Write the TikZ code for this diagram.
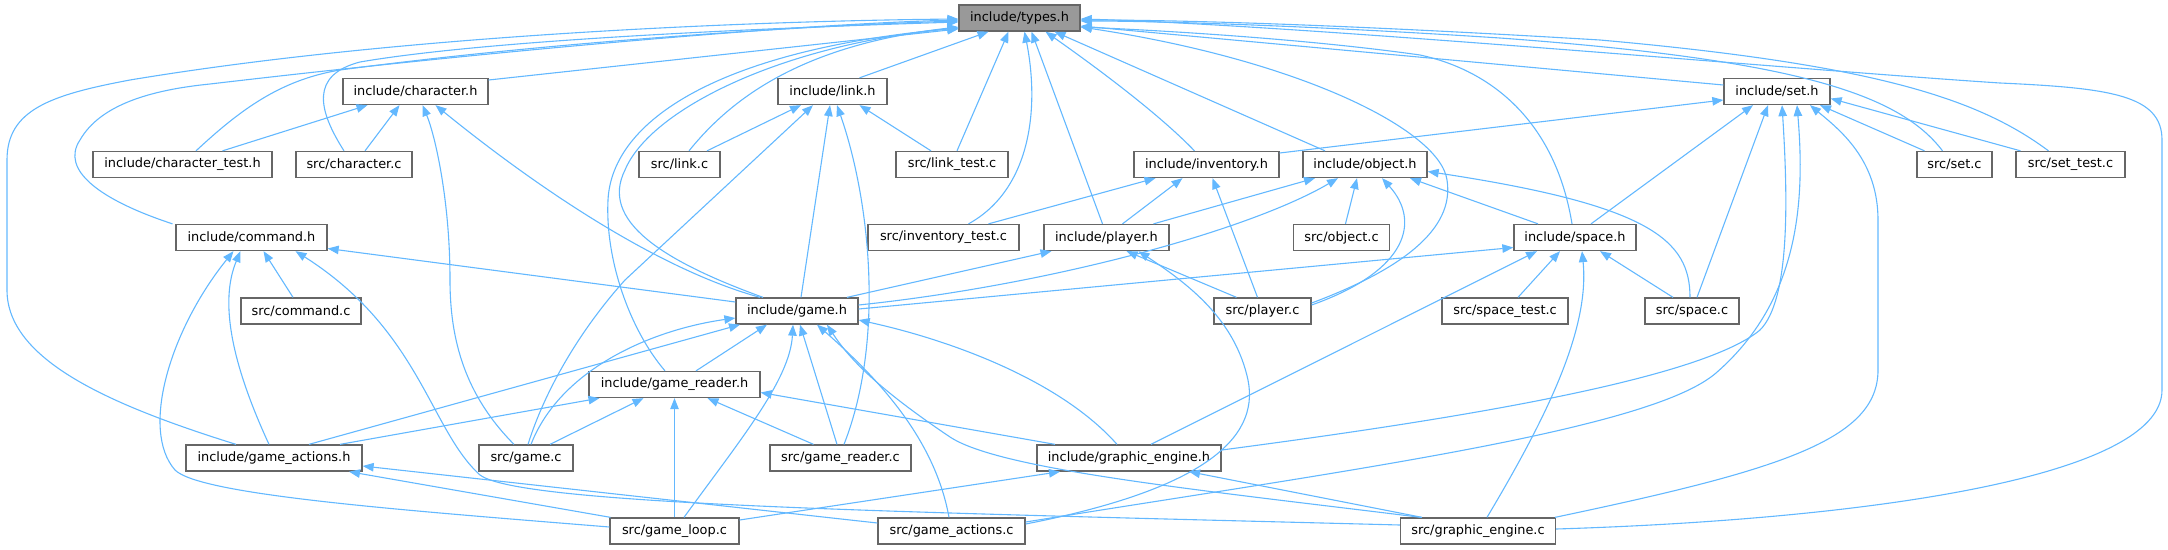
\documentclass[tikz,border=0pt]{standalone}
\usepackage{fontspec}
\setmainfont{DejaVu Sans}
\usetikzlibrary{arrows.meta}
\definecolor{edgeblue}{HTML}{63B8FF}
\definecolor{boxgray}{HTML}{666666}
\definecolor{typesfill}{HTML}{999999}
\begin{document}
\begin{tikzpicture}[x=1pt,y=-1pt,
 box/.style={draw=boxgray, line width=1.3pt, fill=white, minimum height=26pt, inner sep=0pt, font=\fontsize{12.9}{15}\selectfont, text=black},
 e/.style={draw=edgeblue, line width=1.1pt, -{Triangle[length=11pt,width=8.5pt]}}]
\useasboundingbox (0,0) rectangle (2168,549);
\node[box,fill=typesfill,minimum width=121pt] (types) at (1019.5,18) {include/types.h};
\node[box,minimum width=145pt] (charh) at (415.5,91.5) {include/character.h};
\node[box,minimum width=109pt] (linkh) at (832.5,91.5) {include/link.h};
\node[box,minimum width=106pt] (seth) at (1777,91.5) {include/set.h};
\node[box,minimum width=179pt] (chartest) at (182.5,164.5) {include/character\_test.h};
\node[box,minimum width=116pt] (charc) at (354,164.5) {src/character.c};
\node[box,minimum width=81pt] (linkc) at (679.5,164.5) {src/link.c};
\node[box,minimum width=112pt] (linktest) at (952,164.5) {src/link\_test.c};
\node[box,minimum width=145pt] (invh) at (1206.5,164.5) {include/inventory.h};
\node[box,minimum width=124pt] (objh) at (1365,164.5) {include/object.h};
\node[box,minimum width=75pt] (setc) at (1954.5,164.5) {src/set.c};
\node[box,minimum width=109pt] (settest) at (2070.5,164.5) {src/set\_test.c};
\node[box,minimum width=151pt] (cmdh) at (251.5,237.5) {include/command.h};
\node[box,minimum width=151pt] (invtest) at (943.5,237.5) {src/inventory\_test.c};
\node[box,minimum width=125pt] (playerh) at (1106.5,237.5) {include/player.h};
\node[box,minimum width=96pt] (objc) at (1341.5,237.5) {src/object.c};
\node[box,minimum width=122pt] (spaceh) at (1575,237.5) {include/space.h};
\node[box,minimum width=120pt] (cmdc) at (301,311) {src/command.c};
\node[box,minimum width=122pt] (gameh) at (797,311) {include/game.h};
\node[box,minimum width=97pt] (playerc) at (1262.5,311) {src/player.c};
\node[box,minimum width=126pt] (spacetest) at (1505,311) {src/space\_test.c};
\node[box,minimum width=94pt] (spacec) at (1692,311) {src/space.c};
\node[box,minimum width=171pt] (grh) at (674.5,384.5) {include/game\_reader.h};
\node[box,minimum width=176pt] (gah) at (274,458) {include/game\_actions.h};
\node[box,minimum width=94pt] (gamec) at (526,458) {src/game.c};
\node[box,minimum width=141pt] (grc) at (840.5,458) {src/game\_reader.c};
\node[box,minimum width=184pt] (geh) at (1129,458) {include/graphic\_engine.h};
\node[box,minimum width=129pt] (glc) at (674.5,531) {src/game\_loop.c};
\node[box,minimum width=147pt] (gac) at (951.5,531) {src/game\_actions.c};
\node[box,minimum width=155pt] (gec) at (1478,531) {src/graphic\_engine.c};
% types.h
\draw[e] ([xshift=-38pt]gah.north) .. controls (110,405) and (7,360) .. (7,290) -- (7,160) .. controls (7,110) and (50,95) .. (130,80) .. controls (400,35) and (750,21) .. ([yshift=-1pt]types.west);
\draw[e] ([xshift=-79pt]cmdh.north) .. controls (100,200) and (60,170) .. (80,140) .. controls (100,105) and (150,90) .. (210,84) .. controls (500,50) and (800,24) .. ([yshift=-2pt]types.west);
\draw[e] ([xshift=13.5pt]chartest.north) .. controls (240,110) and (280,80) .. (340,70) .. controls (550,42) and (800,26) .. ([yshift=-3pt]types.west);
\draw[e] ([xshift=-10pt]charc.north) .. controls (318,110) and (310,75) .. (360,62) .. controls (500,38) and (800,27) .. ([yshift=-4pt]types.west);
\draw[e] ([yshift=11.5pt]charh.east) -- ([yshift=-11pt]types.west);
\draw[e] ([xshift=9.5pt]linkc.north) .. controls (730,100) and (800,45) .. ([yshift=-9pt]types.west);
\draw[e] ([xshift=-34pt]gameh.north) .. controls (660,260) and (600,220) .. (625,170) .. controls (650,110) and (780,45) .. ([yshift=-10pt]types.west);
\draw[e] ([xshift=-9.5pt]grh.north) .. controls (630,330) and (605,260) .. (608,200) .. controls (612,120) and (720,50) .. ([yshift=-10pt]types.west);
\draw[e] ([xshift=27pt]linkh.north) -- ([xshift=-31pt]types.south);
\draw[e] ([xshift=5pt]linktest.north) -- ([xshift=-11pt]types.south);
\draw[e] ([xshift=25pt]invtest.north) .. controls (1030,190) and (1040,110) .. ([xshift=5pt]types.south);
\draw[e] ([xshift=-4pt]playerh.north) -- ([xshift=12pt]types.south);
\draw[e] ([xshift=-12pt]invh.north) .. controls (1160,115) and (1100,70) .. ([xshift=26pt]types.south);
\draw[e] ([xshift=-40pt]objh.north) -- ([xshift=35pt]types.south);
\draw[e] ([xshift=-3pt]spaceh.north) .. controls (1555,120) and (1490,70) .. (1420,55) .. controls (1300,38) and (1150,30) .. ([yshift=-9pt]types.east);
\draw[e] ([yshift=6.5pt]seth.west) -- ([yshift=-8pt]types.east);
\draw[e] ([xshift=-12pt]setc.north) .. controls (1900,95) and (1800,60) .. (1500,38) .. controls (1300,25) and (1150,21) .. ([yshift=-3pt]types.east);
\draw[e] ([xshift=-22pt]settest.north) .. controls (1980,100) and (1880,65) .. (1600,40) .. controls (1300,22) and (1150,20) .. ([yshift=-2pt]types.east);
\draw[e] ([yshift=2pt]gec.east) .. controls (1850,520) and (2162,480) .. (2162,390) -- (2162,140) .. controls (2162,95) and (2110,88) .. (2000,83) .. controls (1800,70) and (1300,25) .. ([yshift=-1pt]types.east);
\draw[e] ([yshift=8pt]playerc.east) .. controls (1400,270) and (1455,230) .. (1447,180) .. controls (1440,130) and (1300,60) .. ([yshift=-9pt]types.east);
% character.h
\draw[e] ([xshift=40pt]chartest.north) -- ([xshift=-48pt]charh.south);
\draw[e] ([xshift=11pt]charc.north) -- ([xshift=-16pt]charh.south);
\draw[e] ([xshift=-12pt]gamec.north) .. controls (465,395) and (450,340) .. (450,280) .. controls (450,200) and (435,135) .. ([xshift=7pt]charh.south);
\draw[e] ([xshift=-37pt]gameh.north) .. controls (660,270) and (540,190) .. ([xshift=20pt]charh.south);
% link.h
\draw[e] ([xshift=27.5pt]linkc.north) -- ([xshift=-31.5pt]linkh.south);
\draw[e] ([xshift=-21pt]linktest.north) -- ([xshift=27pt]linkh.south);
\draw[e] ([xshift=2pt]gamec.north) .. controls (545,390) and (580,330) .. (625,280) -- ([xshift=-19.5pt]linkh.south);
\draw[e] ([xshift=4pt]gameh.north) -- ([xshift=-2.5pt]linkh.south);
\draw[e] ([xshift=3.5pt]grc.north) .. controls (885,340) and (870,200) .. ([xshift=4.5pt]linkh.south);
% set.h
\draw[e] ([yshift=11.5pt]invh.east) -- ([yshift=-8.5pt]seth.west);
\draw[e] ([xshift=16pt]spaceh.north) -- ([xshift=-24pt]seth.south);
\draw[e] ([xshift=5pt]spacec.north) -- ([xshift=-9pt]seth.south);
\draw[e] ([yshift=8pt]geh.east) .. controls (1450,420) and (1700,380) .. (1760,330) .. controls (1790,300) and (1788,200) .. ([xshift=5pt]seth.south);
\draw[e] ([yshift=9pt]gac.east) .. controls (1350,470) and (1650,430) .. (1716,373) .. controls (1800,300) and (1805,200) .. ([xshift=20pt]seth.south);
\draw[e] ([xshift=77pt]gec.north) .. controls (1780,470) and (1878,440) .. (1878,370) -- (1878,220) .. controls (1878,160) and (1840,130) .. ([xshift=33pt]seth.south);
\draw[e] ([xshift=-30pt]setc.north) -- ([xshift=43pt]seth.south);
\draw[e] ([xshift=-50pt]settest.north) -- ([yshift=-7pt]seth.east);
% inventory.h
\draw[e] ([xshift=45pt]invtest.north) -- ([xshift=-51pt]invh.south);
\draw[e] ([xshift=16pt]playerh.north) -- ([xshift=-24pt]invh.south);
\draw[e] ([xshift=-5pt]playerc.north) -- ([xshift=6pt]invh.south);
% object.h
\draw[e] ([xshift=47pt]playerh.north) -- ([xshift=-50pt]objh.south);
\draw[e] ([yshift=6pt]gameh.east) .. controls (1050,285) and (1250,230) .. ([xshift=-27pt]objh.south);
\draw[e] ([xshift=4pt]objc.north) -- ([xshift=-8pt]objh.south);
\draw[e] ([yshift=6pt]playerc.east) .. controls (1410,270) and (1420,220) .. ([xshift=17pt]objh.south);
\draw[e] ([xshift=-37pt]spaceh.north) -- ([xshift=45pt]objh.south);
\draw[e] ([xshift=-2pt]spacec.north) .. controls (1690,240) and (1650,205) .. ([yshift=-7pt]objh.east);
% command.h
\draw[e] ([yshift=9pt]gameh.west) -- ([yshift=-11pt]cmdh.east);
\draw[e] ([xshift=-8pt]cmdc.north) -- ([xshift=12pt]cmdh.south);
\draw[e] ([xshift=-5pt]gah.north) .. controls (230,360) and (220,300) .. ([xshift=-11pt]cmdh.south);
\draw[e] ([yshift=4pt]glc.west) .. controls (400,510) and (200,495) .. (175,470) .. controls (140,430) and (170,330) .. ([xshift=-18pt]cmdh.south);
\draw[e] ([yshift=6pt]gec.west) .. controls (900,512) and (520,505) .. (480,475) .. controls (430,430) and (420,330) .. ([xshift=44pt]cmdh.south);
% player.h
\draw[e] ([xshift=50pt]gameh.north) -- ([xshift=-55pt]playerh.south);
\draw[e] ([xshift=-26pt]playerc.north) -- ([xshift=20pt]playerh.south);
\draw[e] ([yshift=7pt]gac.east) .. controls (1200,490) and (1260,440) .. (1248,380) .. controls (1235,320) and (1190,285) .. ([xshift=32pt]playerh.south);
% space.h
\draw[e] ([yshift=2pt]gameh.east) -- ([yshift=-10pt]spaceh.west);
\draw[e] ([xshift=13pt]spacetest.north) -- ([xshift=-15pt]spaceh.south);
\draw[e] ([xshift=-19pt]spacec.north) -- ([xshift=25pt]spaceh.south);
\draw[e] ([xshift=22pt]geh.north) -- ([xshift=-38pt]spaceh.south);
\draw[e] ([xshift=9pt]gec.north) .. controls (1545,420) and (1590,330) .. ([xshift=7pt]spaceh.south);
% game.h
\draw[e] ([xshift=21.5pt]grh.north) -- ([xshift=-30pt]gameh.south);
\draw[e] ([xshift=5pt]gamec.north) .. controls (560,370) and (650,330) .. ([yshift=-7pt]gameh.west);
\draw[e] ([xshift=35pt]gah.north) -- ([xshift=-57pt]gameh.south);
\draw[e] ([xshift=9.5pt]glc.north) .. controls (740,440) and (790,380) .. ([xshift=-4pt]gameh.south);
\draw[e] ([xshift=-3.5pt]grc.north) -- ([xshift=3pt]gameh.south);
\draw[e] ([xshift=-2.5pt]gac.north) .. controls (935,440) and (880,380) .. ([xshift=20pt]gameh.south);
\draw[e] ([xshift=-57pt]gec.north) .. controls (1200,490) and (1000,470) .. (950,437) .. controls (880,390) and (850,360) .. ([xshift=30pt]gameh.south);
\draw[e] ([xshift=-12pt]geh.north) .. controls (1060,380) and (950,340) .. ([yshift=-9pt]gameh.east);
% game_reader.h
\draw[e] ([xshift=66pt]gah.north) -- ([xshift=-75pt]grh.south);
\draw[e] ([xshift=24pt]gamec.north) -- ([xshift=-31pt]grh.south);
\draw[e] (glc.north) -- (grh.south);
\draw[e] ([xshift=-27pt]grc.north) -- ([xshift=33pt]grh.south);
\draw[e] ([xshift=-74pt]geh.north) -- ([yshift=-8pt]grh.east);
% game_actions.h
\draw[e] ([xshift=-64pt]glc.north) -- ([xshift=75pt]gah.south);
\draw[e] ([yshift=8pt]gac.west) -- ([yshift=-8pt]gah.east);
% graphic_engine.h
\draw[e] ([yshift=11pt]glc.east) -- ([xshift=-69pt]geh.south);
\draw[e] ([xshift=-56pt]gec.north) -- ([xshift=60pt]geh.south);
\end{tikzpicture}
\end{document}
